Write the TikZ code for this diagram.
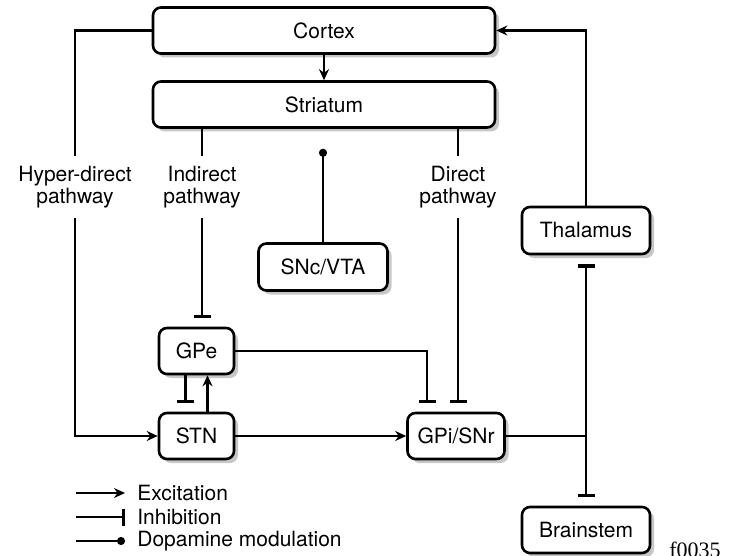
\documentclass[tikz,border=0pt]{standalone}
\usepackage{fontspec}
\setmainfont{TeX Gyre Heros}
\newfontfamily\figfont{Liberation Serif}
\usetikzlibrary{arrows.meta,positioning,shadows,calc}

\tikzset{
  box/.style={draw, rounded corners=4pt, line width=1.3pt, fill=white, align=center, inner sep=0pt,
    drop shadow={shadow xshift=2pt, shadow yshift=-2pt, fill=black!22, opacity=1}},
  lbl/.style={align=center, inner sep=0pt, minimum height=31pt},
  conn/.style={line width=1.1pt},
  exc/.style={conn, -{Stealth[length=5.5pt,width=5pt]}},
  inh/.style={conn, -{Bar[width=8.5pt,line width=1.6pt]}, shorten >=4.5pt},
  dop/.style={conn, -{Circle[length=4pt]}},
}

\begin{document}
\begin{tikzpicture}[x=0.5pt, y=-0.5pt, font=\fontsize{10.5}{11}\selectfont]
  \useasboundingbox (0,0) rectangle (739,556);

  % Boxes
  \node[box, minimum width=171pt, minimum height=23pt] (cortex) at (324,30.5) {Cortex};
  \node[box, minimum width=171pt, minimum height=23pt] (striatum) at (324,104.5) {Striatum};
  \node[box, minimum width=64.5pt, minimum height=23.5pt] (snc) at (323,267) {SNc/VTA};
  \node[box, minimum width=64pt, minimum height=23.5pt] (thalamus) at (586,230.5) {Thalamus};
  \node[box, minimum width=37.5pt, minimum height=23pt] (gpe) at (196.5,351) {GPe};
  \node[box, minimum width=37.5pt, minimum height=23pt] (stn) at (196.5,436) {STN};
  \node[box, minimum width=48.5pt, minimum height=23pt] (gpi) at (456,436) {GPi/SNr};
  \node[box, minimum width=64pt, minimum height=23pt] (brainstem) at (586,530) {Brainstem};

  % Pathway labels
  \node[lbl] (hyper) at (75,187) {Hyper-direct\\pathway};
  \node[lbl] (indirect) at (202,187) {Indirect\\pathway};
  \node[lbl] (direct) at (458,187) {Direct\\pathway};

  % Connections
  \draw[exc] (cortex) -- (striatum);
  \draw[conn] (cortex.west) -| (hyper.north);
  \draw[exc] (hyper.south) |- (stn.west);
  \draw[conn] (striatum.south -| indirect) -- (indirect.north);
  \draw[inh] (indirect.south) -- (indirect.south |- gpe.north);
  \draw[conn] (striatum.south -| direct) -- (direct.north);
  \draw[inh] (direct.south) -- (direct.south |- gpi.north);
  \draw[dop, shorten >=10pt] (snc.north) -- (snc.north |- striatum.south);
  \draw[exc] (thalamus.north) |- (cortex.east);
  \draw[inh] ([xshift=-5.5pt]gpe.south) -- ([xshift=-5.5pt]stn.north);
  \draw[exc] ([xshift=5.5pt]stn.north) -- ([xshift=5.5pt]gpe.south);
  \draw[inh] (gpe.east) -| ([xshift=-14.5pt]gpi.north);
  \draw[exc] (stn) -- (gpi);
  \coordinate (split) at (thalamus |- gpi);
  \draw[conn] (gpi.east) -- (split);
  \draw[inh] (split) -- (thalamus.south);
  \draw[inh] (split) -- (brainstem.north);

  % Legend
  \node[anchor=west, inner sep=0pt] (lexc) at (137,493) {Excitation};
  \node[anchor=west, inner sep=0pt] (linh) at (137,517) {Inhibition};
  \node[anchor=west, inner sep=0pt] (ldop) at (137,541) {Dopamine modulation};
  \coordinate (l1) at (76,493);
  \coordinate (l2) at (76,517);
  \coordinate (l3) at (76,541);
  \draw[exc] (l1) -- ([xshift=-6pt]lexc.west);
  \draw[inh, shorten >=0pt] (l2) -- ([xshift=-6pt]linh.west);
  \draw[dop] (l3) -- ([xshift=-6pt]ldop.west);

  \node[anchor=base west, inner sep=0pt, font=\figfont\fontsize{11}{11}\selectfont] (tag) at (669,557) {f0035};
\end{tikzpicture}
\end{document}
